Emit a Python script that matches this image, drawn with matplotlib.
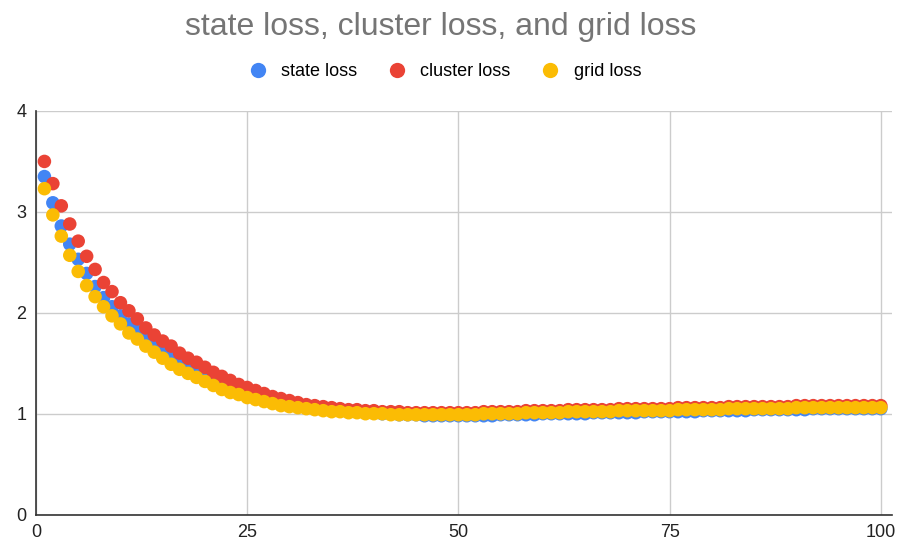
import numpy as np
import matplotlib
matplotlib.use("Agg")
import matplotlib.pyplot as plt
from matplotlib.lines import Line2D

plt.rcParams["font.family"] = ["Liberation Sans", "DejaVu Sans"]

# epochs 1..100
epochs = np.arange(1, 101)

state_loss = [
    3.35, 3.09, 2.86, 2.68, 2.53, 2.39, 2.26, 2.15, 2.06, 1.97,
    1.89, 1.82, 1.75, 1.69, 1.63, 1.57, 1.52, 1.47, 1.43, 1.39,
    1.35, 1.31, 1.27, 1.24, 1.21, 1.18, 1.16, 1.14, 1.12, 1.10,
    1.08, 1.07, 1.06, 1.05, 1.04, 1.03, 1.02, 1.02, 1.01, 1.01,
    1.00, 1.00, 0.99, 0.99, 0.99, 0.98, 0.98, 0.98, 0.98, 0.98,
    0.98, 0.98, 0.98, 0.98, 0.99, 0.99, 0.99, 0.99, 0.99, 1.00,
    1.00, 1.00, 1.00, 1.00, 1.00, 1.01, 1.01, 1.01, 1.01, 1.01,
    1.01, 1.02, 1.02, 1.02, 1.02, 1.02, 1.02, 1.02, 1.03, 1.03,
    1.03, 1.03, 1.03, 1.03, 1.04, 1.04, 1.04, 1.04, 1.04, 1.04,
    1.04, 1.05, 1.05, 1.05, 1.05, 1.05, 1.05, 1.05, 1.05, 1.05,
]

cluster_loss = [
    3.50, 3.28, 3.06, 2.88, 2.71, 2.56, 2.43, 2.30, 2.21, 2.10,
    2.02, 1.94, 1.85, 1.78, 1.72, 1.67, 1.60, 1.55, 1.51, 1.46,
    1.41, 1.37, 1.33, 1.29, 1.26, 1.23, 1.20, 1.17, 1.15, 1.13,
    1.11, 1.09, 1.08, 1.07, 1.06, 1.05, 1.04, 1.04, 1.03, 1.03,
    1.02, 1.02, 1.02, 1.01, 1.01, 1.01, 1.01, 1.01, 1.01, 1.01,
    1.01, 1.01, 1.02, 1.02, 1.02, 1.02, 1.02, 1.03, 1.03, 1.03,
    1.03, 1.03, 1.04, 1.04, 1.04, 1.04, 1.04, 1.04, 1.05, 1.05,
    1.05, 1.05, 1.05, 1.05, 1.05, 1.06, 1.06, 1.06, 1.06, 1.06,
    1.06, 1.07, 1.07, 1.07, 1.07, 1.07, 1.07, 1.07, 1.07, 1.08,
    1.08, 1.08, 1.08, 1.08, 1.08, 1.08, 1.08, 1.08, 1.08, 1.08,
]

grid_loss = [
    3.23, 2.97, 2.76, 2.57, 2.41, 2.27, 2.16, 2.06, 1.97, 1.89,
    1.80, 1.74, 1.67, 1.61, 1.55, 1.49, 1.44, 1.40, 1.36, 1.32,
    1.28, 1.24, 1.21, 1.19, 1.16, 1.14, 1.12, 1.10, 1.08, 1.07,
    1.06, 1.05, 1.04, 1.03, 1.02, 1.02, 1.01, 1.01, 1.00, 1.00,
    1.00, 0.99, 0.99, 0.99, 0.99, 0.99, 0.99, 0.99, 0.99, 0.99,
    0.99, 0.99, 1.00, 1.00, 1.00, 1.00, 1.00, 1.01, 1.01, 1.01,
    1.01, 1.01, 1.02, 1.02, 1.02, 1.02, 1.02, 1.02, 1.03, 1.03,
    1.03, 1.03, 1.03, 1.03, 1.03, 1.04, 1.04, 1.04, 1.04, 1.04,
    1.04, 1.05, 1.05, 1.05, 1.05, 1.05, 1.05, 1.05, 1.05, 1.06,
    1.06, 1.06, 1.06, 1.06, 1.06, 1.06, 1.06, 1.06, 1.06, 1.06,
]

labels = ["state loss", "cluster loss", "grid loss"]
colors = ["#4285F4", "#EA4335", "#FBBC04"]
x_ticks = [0, 25, 50, 75, 100]
y_ticks = [0, 1, 2, 3, 4]

fig = plt.figure(figsize=(8.99, 5.44), dpi=100)
ax = fig.add_axes([0.040, 0.054, 0.952, 0.742])

for vals, c in zip([state_loss, cluster_loss, grid_loss], colors):
    ax.scatter(epochs, vals, s=95, color=c, edgecolors="none", zorder=3)

ax.set_xlim(0, 101.3)
ax.set_ylim(0, 4)
ax.set_xticks(x_ticks)
ax.set_yticks(y_ticks)
ax.grid(True, color="#cccccc", linewidth=1)
ax.set_axisbelow(True)
for side in ["top", "right"]:
    ax.spines[side].set_visible(False)
for side in ["left", "bottom"]:
    ax.spines[side].set_color("#333333")
    ax.spines[side].set_linewidth(1.2)
ax.tick_params(length=0, labelsize=13, labelcolor="#222222", pad=7)

fig.text(0.49, 0.950, "state loss, cluster loss, and grid loss",
         ha="center", va="center", fontsize=23, color="#757575")

handles = [Line2D([], [], marker="o", linestyle="none", markersize=11,
                  markerfacecolor=c, markeredgecolor="none") for c in colors]
fig.legend(handles, labels, loc="center", bbox_to_anchor=(0.49, 0.868), ncol=3,
           frameon=False, fontsize=13, handletextpad=0.3, columnspacing=1.2)

plt.savefig("out.png")
